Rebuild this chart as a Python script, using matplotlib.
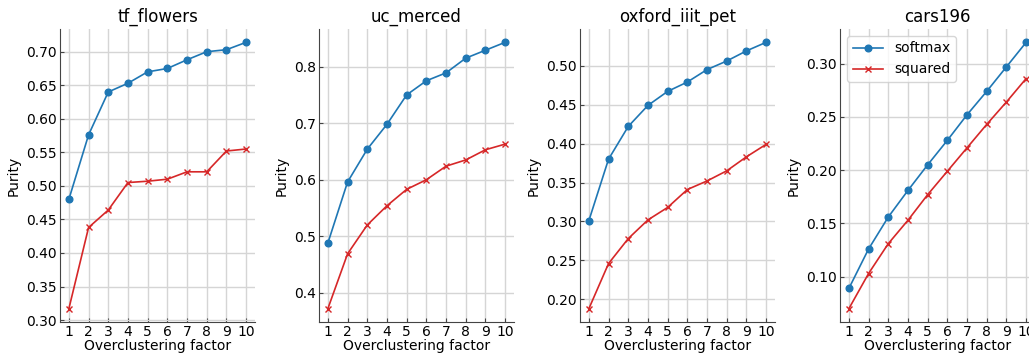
import numpy as np
import matplotlib
matplotlib.use("Agg")
import matplotlib.pyplot as plt

# overclustering factor on the x axis
factors = np.arange(1, 11)

datasets = ["tf_flowers", "uc_merced", "oxford_iiit_pet", "cars196"]

softmax_flowers = [0.480, 0.576, 0.640, 0.653, 0.670, 0.675, 0.688, 0.700, 0.703, 0.714]
squared_flowers = [0.317, 0.438, 0.464, 0.505, 0.507, 0.510, 0.521, 0.521, 0.552, 0.555]

softmax_merced = [0.488, 0.596, 0.654, 0.698, 0.750, 0.775, 0.789, 0.815, 0.829, 0.843]
squared_merced = [0.372, 0.469, 0.520, 0.554, 0.583, 0.600, 0.624, 0.635, 0.653, 0.663]

softmax_pet = [0.301, 0.380, 0.422, 0.449, 0.467, 0.479, 0.495, 0.506, 0.519, 0.530]
squared_pet = [0.188, 0.246, 0.278, 0.302, 0.318, 0.341, 0.352, 0.365, 0.383, 0.399]

softmax_cars = [0.089, 0.126, 0.156, 0.181, 0.205, 0.228, 0.252, 0.274, 0.297, 0.320]
squared_cars = [0.070, 0.103, 0.131, 0.153, 0.177, 0.199, 0.221, 0.243, 0.264, 0.286]

softmax_all = [softmax_flowers, softmax_merced, softmax_pet, softmax_cars]
squared_all = [squared_flowers, squared_merced, squared_pet, squared_cars]

plt.rcParams["font.family"] = "DejaVu Sans"
plt.rcParams["font.size"] = 10

W, H = 1029, 354
fig = plt.figure(figsize=(W / 100, H / 100), dpi=100)

lefts = [60, 319, 580, 840]
ax_w, top, bottom = 195, 29, 322

for i, name in enumerate(datasets):
    ax = fig.add_axes([lefts[i] / W, 1 - bottom / H, ax_w / W, (bottom - top) / H])
    ax.plot(factors, softmax_all[i], "-o", color="#1f77b4", ms=4.8, lw=1.2, label="softmax")
    ax.plot(factors, squared_all[i], "-x", color="#d62728", ms=5, lw=1.2, label="squared")
    ax.set_title(name, fontsize=12, pad=5)
    ax.set_xlabel("Overclustering factor", fontsize=10, labelpad=0)
    ax.set_ylabel("Purity", fontsize=10, labelpad=4)
    ax.set_xticks(factors)
    ax.grid(True, color="#d5d5d5", lw=1)
    ax.set_axisbelow(True)
    for s in ["top", "right"]:
        ax.spines[s].set_visible(False)
    for s in ["left", "bottom"]:
        ax.spines[s].set_color("#444444")
    ax.tick_params(direction="in", length=3, color="#444444", labelsize=10, pad=2)
    if i == 3:
        ax.legend(loc="upper left", fontsize=10, handlelength=2.2)

fig.savefig("out.png", dpi=100)
